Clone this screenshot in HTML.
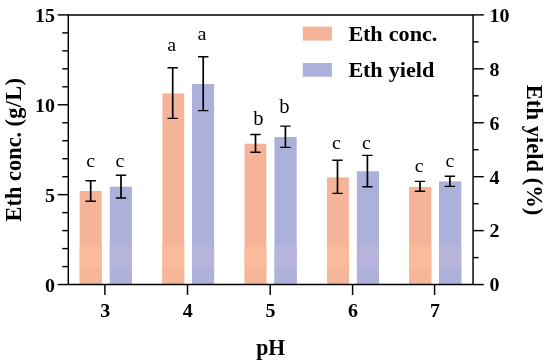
<!DOCTYPE html><html><head><meta charset="utf-8"><title>Eth chart</title><style>html,body{margin:0;padding:0;background:#fff}svg{display:block}text{font-family:"Liberation Serif","Times New Roman",serif;fill:#000}</style></head><body>
<svg width="550" height="364" viewBox="0 0 550 364">
<rect width="550" height="364" fill="#fff"/>
<rect x="79.7" y="191.0" width="22.0" height="93.6" fill="#f5b497"/>
<rect x="109.8" y="186.7" width="22.1" height="97.9" fill="#acb1db"/>
<rect x="162.4" y="93.4" width="21.8" height="191.2" fill="#f5b497"/>
<rect x="192.0" y="84.0" width="22.1" height="200.6" fill="#acb1db"/>
<rect x="244.6" y="143.7" width="21.7" height="140.9" fill="#f5b497"/>
<rect x="274.5" y="137.0" width="22.2" height="147.6" fill="#acb1db"/>
<rect x="327.0" y="177.4" width="21.9" height="107.2" fill="#f5b497"/>
<rect x="356.9" y="171.2" width="22.1" height="113.4" fill="#acb1db"/>
<rect x="409.1" y="186.9" width="22.2" height="97.7" fill="#f5b497"/>
<rect x="439.0" y="181.4" width="22.3" height="103.2" fill="#acb1db"/>
<rect x="79.7" y="245.5" width="22.0" height="22.5" fill="#fbba99"/>
<rect x="79.7" y="268" width="22.0" height="16.6" fill="#f6b698"/>
<rect x="109.8" y="245.5" width="22.1" height="22.5" fill="#b6b4da"/>
<rect x="109.8" y="268" width="22.1" height="16.6" fill="#aeb2db"/>
<rect x="162.4" y="245.5" width="21.8" height="22.5" fill="#fbba99"/>
<rect x="162.4" y="268" width="21.8" height="16.6" fill="#f6b698"/>
<rect x="192.0" y="245.5" width="22.1" height="22.5" fill="#b6b4da"/>
<rect x="192.0" y="268" width="22.1" height="16.6" fill="#aeb2db"/>
<rect x="244.6" y="245.5" width="21.7" height="22.5" fill="#fbba99"/>
<rect x="244.6" y="268" width="21.7" height="16.6" fill="#f6b698"/>
<rect x="274.5" y="245.5" width="22.2" height="22.5" fill="#b6b4da"/>
<rect x="274.5" y="268" width="22.2" height="16.6" fill="#aeb2db"/>
<rect x="327.0" y="245.5" width="21.9" height="22.5" fill="#fbba99"/>
<rect x="327.0" y="268" width="21.9" height="16.6" fill="#f6b698"/>
<rect x="356.9" y="245.5" width="22.1" height="22.5" fill="#b6b4da"/>
<rect x="356.9" y="268" width="22.1" height="16.6" fill="#aeb2db"/>
<rect x="409.1" y="245.5" width="22.2" height="22.5" fill="#fbba99"/>
<rect x="409.1" y="268" width="22.2" height="16.6" fill="#f6b698"/>
<rect x="439.0" y="245.5" width="22.3" height="22.5" fill="#b6b4da"/>
<rect x="439.0" y="268" width="22.3" height="16.6" fill="#aeb2db"/>
<g stroke="#000" fill="none">
<path stroke-width="1.7" d="M90.7 180.7V201.3"/>
<path stroke-width="1.4" d="M85.5 180.7H95.9M85.5 201.3H95.9"/>
<path stroke-width="1.7" d="M121.0 175.2V198.0"/>
<path stroke-width="1.4" d="M115.8 175.2H126.2M115.8 198.0H126.2"/>
<path stroke-width="1.7" d="M172.7 67.7V118.4"/>
<path stroke-width="1.4" d="M167.5 67.7H177.9M167.5 118.4H177.9"/>
<path stroke-width="1.7" d="M203.2 56.8V110.6"/>
<path stroke-width="1.4" d="M198.0 56.8H208.4M198.0 110.6H208.4"/>
<path stroke-width="1.7" d="M255.5 134.5V152.2"/>
<path stroke-width="1.4" d="M250.3 134.5H260.7M250.3 152.2H260.7"/>
<path stroke-width="1.7" d="M285.4 126.1V147.4"/>
<path stroke-width="1.4" d="M280.2 126.1H290.6M280.2 147.4H290.6"/>
<path stroke-width="1.7" d="M337.5 160.3V193.4"/>
<path stroke-width="1.4" d="M332.3 160.3H342.7M332.3 193.4H342.7"/>
<path stroke-width="1.7" d="M367.4 155.4V186.8"/>
<path stroke-width="1.4" d="M362.2 155.4H372.6M362.2 186.8H372.6"/>
<path stroke-width="1.7" d="M420.0 181.4V191.3"/>
<path stroke-width="1.4" d="M414.8 181.4H425.2M414.8 191.3H425.2"/>
<path stroke-width="1.7" d="M449.9 176.2V186.4"/>
<path stroke-width="1.4" d="M444.7 176.2H455.1M444.7 186.4H455.1"/>
</g>
<g stroke="#000" stroke-width="1.45" fill="none">
<path d="M68.3 284.55V14.9H473.05V284.55"/>
<path d="M68.3 284.55H473.05"/>
<path d="M57.7 284.55H68.3"/>
<path d="M62.3 266.57H68.3"/>
<path d="M62.3 248.60H68.3"/>
<path d="M62.3 230.62H68.3"/>
<path d="M62.3 212.64H68.3"/>
<path d="M57.7 194.67H68.3"/>
<path d="M62.3 176.69H68.3"/>
<path d="M62.3 158.71H68.3"/>
<path d="M62.3 140.74H68.3"/>
<path d="M62.3 122.76H68.3"/>
<path d="M57.7 104.78H68.3"/>
<path d="M62.3 86.81H68.3"/>
<path d="M62.3 68.83H68.3"/>
<path d="M62.3 50.85H68.3"/>
<path d="M62.3 32.88H68.3"/>
<path d="M57.7 14.90H68.3"/>
<path d="M473.05 284.55H483.8"/>
<path d="M473.05 257.59H478.6"/>
<path d="M473.05 230.62H483.8"/>
<path d="M473.05 203.66H478.6"/>
<path d="M473.05 176.69H483.8"/>
<path d="M473.05 149.72H478.6"/>
<path d="M473.05 122.76H483.8"/>
<path d="M473.05 95.79H478.6"/>
<path d="M473.05 68.83H483.8"/>
<path d="M473.05 41.86H478.6"/>
<path d="M473.05 14.90H483.8"/>
<path d="M104.9 284.55V295"/>
<path d="M187.5 284.55V295"/>
<path d="M270.2 284.55V295"/>
<path d="M352.6 284.55V295"/>
<path d="M434.6 284.55V295"/>
</g>
<g font-weight="bold">
<text transform="translate(54.9 291.8) scale(1 0.955)" text-anchor="end" font-size="20" >0</text>
<text transform="translate(54.9 201.9) scale(1 0.955)" text-anchor="end" font-size="20" >5</text>
<text transform="translate(54.9 112.0) scale(1 0.955)" text-anchor="end" font-size="20" >10</text>
<text transform="translate(54.9 22.1) scale(1 0.955)" text-anchor="end" font-size="20" >15</text>
<text transform="translate(489.6 291.4) scale(1 0.955)" text-anchor="start" font-size="20" >0</text>
<text transform="translate(489.6 237.4) scale(1 0.955)" text-anchor="start" font-size="20" >2</text>
<text transform="translate(489.6 183.5) scale(1 0.955)" text-anchor="start" font-size="20" >4</text>
<text transform="translate(489.6 129.6) scale(1 0.955)" text-anchor="start" font-size="20" >6</text>
<text transform="translate(489.6 75.6) scale(1 0.955)" text-anchor="start" font-size="20" >8</text>
<text transform="translate(489.6 21.7) scale(1 0.955)" text-anchor="start" font-size="20" >10</text>
<text transform="translate(105.2 317.0) scale(1 0.955)" text-anchor="middle" font-size="20" >3</text>
<text transform="translate(187.8 317.0) scale(1 0.955)" text-anchor="middle" font-size="20" >4</text>
<text transform="translate(270.5 317.0) scale(1 0.955)" text-anchor="middle" font-size="20" >5</text>
<text transform="translate(352.9 317.0) scale(1 0.955)" text-anchor="middle" font-size="20" >6</text>
<text transform="translate(434.9 317.0) scale(1 0.955)" text-anchor="middle" font-size="20" >7</text>
</g>
<text transform="translate(90.7 167.0) scale(1 0.96)" text-anchor="middle" font-size="20" >c</text>
<text transform="translate(120.0 167.0) scale(1 0.96)" text-anchor="middle" font-size="20" >c</text>
<text transform="translate(171.6 51.0) scale(1 0.96)" text-anchor="middle" font-size="20" >a</text>
<text transform="translate(201.9 39.7) scale(1 0.96)" text-anchor="middle" font-size="20" >a</text>
<text transform="translate(258.5 124.8) scale(1 1.03)" text-anchor="middle" font-size="20.6" >b</text>
<text transform="translate(284.4 113.4) scale(1 1.03)" text-anchor="middle" font-size="20.6" >b</text>
<text transform="translate(336.5 149.4) scale(1 0.96)" text-anchor="middle" font-size="20" >c</text>
<text transform="translate(366.4 149.4) scale(1 0.96)" text-anchor="middle" font-size="20" >c</text>
<text transform="translate(419.2 171.7) scale(1 0.96)" text-anchor="middle" font-size="20" >c</text>
<text transform="translate(449.9 167.3) scale(1 0.96)" text-anchor="middle" font-size="20" >c</text>
<rect x="302.8" y="26.6" width="29.1" height="14" fill="#f5b497"/>
<rect x="302.8" y="63" width="29.1" height="13.8" fill="#acb1db"/>
<g font-weight="bold">
<text transform="translate(348.6 40.8) scale(1 0.95)" text-anchor="start" font-size="22.2" ><tspan letter-spacing="-0.3">Eth</tspan><tspan dx="0.9"> conc.</tspan></text>
<text transform="translate(348.6 76.7) scale(1 0.95)" text-anchor="start" font-size="22.2" ><tspan letter-spacing="-0.3">Eth</tspan><tspan dx="0.9"> yield</tspan></text>
</g>
<text font-size="22.4" font-weight="bold" transform="translate(21.1 221.4) rotate(-90)">Eth conc. <tspan dx="-0.35" letter-spacing="0.35">(g/L)</tspan></text>
<text font-size="22.5" font-weight="bold" letter-spacing="0.05" transform="translate(526.9 84.8) rotate(90) scale(1 1.02)">Eth yield (%)</text>
<text transform="translate(270.6 354.5) scale(1 1.03)" text-anchor="middle" font-size="21.7" font-weight="bold">pH</text>
</svg></body></html>
